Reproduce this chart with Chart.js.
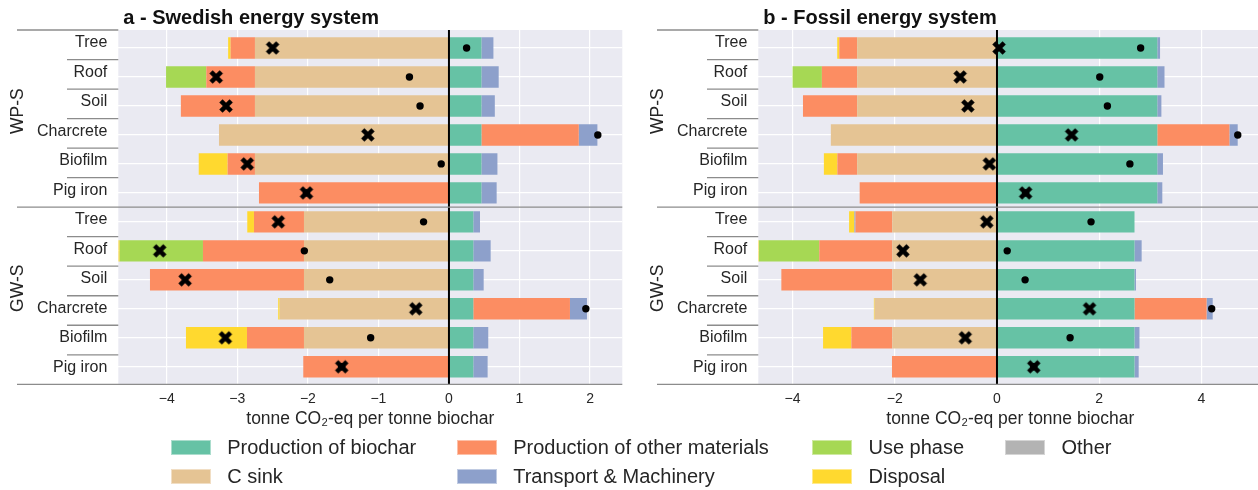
<!DOCTYPE html>
<html>
<head>
<meta charset="utf-8">
<script src="https://cdn.jsdelivr.net/npm/chart.js@4"></script>
<style>
  html, body { margin: 0; padding: 0; background: #ffffff; overflow: hidden; width: 1258px; height: 490px; }
  #wrap { position: relative; width: 1258px; height: 490px; overflow: hidden; font-family: "Liberation Sans", Arial, sans-serif; }
  #wrap canvas { position: absolute; top: 0; }
  .key { position: absolute; height: 15px; display: flex; align-items: center; font-size: 20px; color: #262626; white-space: nowrap; }
  .key i { display: inline-block; width: 40px; height: 15px; margin-right: 16.5px; box-sizing: border-box; border: 1px solid rgba(255,255,255,0.45); }
</style>
</head>
<body>
<div id="wrap">
  <canvas id="panelA" width="630" height="440" style="left:0px"></canvas>
  <canvas id="panelB" width="630" height="440" style="left:640px"></canvas>
  <div id="legend"></div>
</div>
<script>
// Row structure: six applications under each of two scenarios
const scenarios = ['WP-S', 'GW-S'];
const applications = ['Tree', 'Roof', 'Soil', 'Charcrete', 'Biofilm', 'Pig iron'];

// Emission categories (stacking order) and their colours
const seriesNames = ['Production of biochar', 'C sink', 'Production of other materials',
                     'Transport & Machinery', 'Use phase', 'Disposal', 'Other'];
const seriesColors = ['#66c2a5', '#e5c494', '#fc8d62', '#8da0cb', '#a6d854', '#ffd92f', '#b3b3b3'];

// a - Swedish energy system, tonne CO2-eq per tonne biochar (rows: WP-S x6, then GW-S x6)
const sweBiochar   = [0.46, 0.46, 0.46, 0.46, 0.46, 0.46, 0.345, 0.345, 0.345, 0.345, 0.345, 0.345];
const sweCSink     = [-2.75, -2.75, -2.75, -3.26, -2.75, 0, -2.055, -2.055, -2.055, -2.40, -2.055, 0];
const sweMaterials = [-0.345, -0.69, -1.05, 1.38, -0.387, -2.693, -0.709, -1.432, -2.183, 1.37, -0.808, -2.065];
const sweTransport = [0.17, 0.245, 0.19, 0.264, 0.227, 0.216, 0.095, 0.246, 0.147, 0.241, 0.212, 0.203];
const sweUse       = [0, -0.57, 0, 0, 0, 0, 0, -1.18, 0, 0, 0, 0];
const sweDisposal  = [-0.035, 0, 0, 0, -0.41, 0, -0.095, -0.02, 0, -0.02, -0.865, 0];
const sweOther     = [0, 0, 0, 0, 0, 0, 0, 0, 0, 0, 0, 0];
const sweNet       = [-2.50, -3.30, -3.16, -1.15, -2.86, -2.02, -2.42, -4.10, -3.74, -0.47, -3.17, -1.52];
const sweNoSink    = [0.25, -0.56, -0.41, 2.11, -0.11, -2.02, -0.36, -2.05, -1.69, 1.94, -1.11, -1.52];
const sweTicks     = [-4, -3, -2, -1, 0, 1, 2];

// b - Fossil energy system
const fosBiochar   = [3.136, 3.136, 3.136, 3.136, 3.136, 3.136, 2.69, 2.69, 2.69, 2.69, 2.69, 2.69];
const fosCSink     = [-2.735, -2.735, -2.735, -3.25, -2.735, 0, -2.048, -2.048, -2.048, -2.393, -2.048, 0];
const fosMaterials = [-0.35, -0.69, -1.06, 1.41, -0.387, -2.686, -0.72, -1.428, -2.17, 1.41, -0.80, -2.054];
const fosTransport = [0.054, 0.141, 0.08, 0.163, 0.111, 0.098, -0.02, 0.14, 0.029, 0.12, 0.097, 0.082];
const fosUse       = [0, -0.573, 0, 0, 0, 0, 0, -1.179, 0, 0, 0, 0];
const fosDisposal  = [-0.04, 0, 0, 0, -0.264, 0, -0.105, -0.014, 0, -0.015, -0.554, 0];
const fosOther     = [0, 0, 0, 0, 0, 0, 0, 0, 0, 0, 0, 0];
const fosNet       = [0.04, -0.72, -0.57, 1.46, -0.15, 0.56, -0.20, -1.84, -1.50, 1.81, -0.62, 0.72];
const fosNoSink    = [2.81, 2.01, 2.16, 4.71, 2.60, 0.56, 1.84, 0.20, 0.55, 4.20, 1.43, 0.72];
const fosTicks     = [-4, -2, 0, 2, 4];

const FONT = '"Liberation Sans", Arial, sans-serif';
const rowCount = scenarios.length * applications.length;

// Filled "X" marker for the net result
function crossMarker(span, arm) {
  const c = document.createElement('canvas');
  const s = Math.ceil(span) + 4;
  c.width = s; c.height = s;
  const g = c.getContext('2d');
  g.translate(s / 2, s / 2);
  g.rotate(Math.PI / 4);
  g.fillStyle = '#000000';
  const len = span * Math.SQRT2 - arm;
  g.fillRect(-len / 2, -arm / 2, len, arm);
  g.fillRect(-arm / 2, -len / 2, arm, len);
  return c;
}
const netMarker = crossMarker(13.5, 4.6);

// Background, zero line, row/scenario labels with divider rules, panel title
const panelDecor = {
  id: 'panelDecor',
  beforeDraw(chart) {
    const { ctx, chartArea: a } = chart;
    ctx.save();
    ctx.fillStyle = '#eaeaf2';
    ctx.fillRect(a.left, a.top, a.right - a.left, a.bottom - a.top);
    ctx.restore();
  },
  afterDatasetsDraw(chart) {
    const { ctx, chartArea: a } = chart;
    const x0 = chart.scales.x.getPixelForValue(0);
    ctx.save();
    ctx.strokeStyle = '#000000';
    ctx.lineWidth = 2;
    ctx.beginPath();
    ctx.moveTo(x0, a.top);
    ctx.lineTo(x0, a.bottom);
    ctx.stroke();
    ctx.restore();
  },
  afterDraw(chart, args, opts) {
    const { ctx, chartArea: a } = chart;
    const cell = (a.bottom - a.top) / rowCount;
    const per = applications.length;
    ctx.save();
    // divider rules
    ctx.strokeStyle = '#8c8c8c';
    ctx.lineWidth = 1.3;
    for (let g = 0; g <= scenarios.length; g++) {
      const y = a.top + g * per * cell;
      ctx.beginPath();
      ctx.moveTo(a.left - 101.3, y);
      ctx.lineTo(g === 0 ? a.left : a.right, y);
      ctx.stroke();
    }
    for (let g = 0; g < scenarios.length; g++) {
      for (let k = 1; k < per; k++) {
        const y = a.top + (g * per + k) * cell;
        ctx.beginPath();
        ctx.moveTo(a.left - 51.3, y);
        ctx.lineTo(a.left, y);
        ctx.stroke();
      }
    }
    // application labels
    ctx.fillStyle = '#262626';
    ctx.font = '16px ' + FONT;
    ctx.textAlign = 'right';
    ctx.textBaseline = 'alphabetic';
    for (let i = 0; i < rowCount; i++) {
      const y = a.top + (i + 0.5) * cell + 2.4;
      ctx.fillText(applications[i % per], a.left - 11, y);
    }
    // scenario labels
    ctx.font = '17.5px ' + FONT;
    ctx.textAlign = 'center';
    for (let g = 0; g < scenarios.length; g++) {
      const yc = a.top + (g * per + per / 2) * cell - 7.5;
      ctx.save();
      ctx.translate(a.left - 95.6, yc);
      ctx.rotate(-Math.PI / 2);
      ctx.fillText(scenarios[g], 0, 0);
      ctx.restore();
    }
    // panel title
    ctx.fillStyle = '#111111';
    ctx.font = 'bold 20px ' + FONT;
    ctx.textAlign = 'left';
    ctx.fillText(opts.title, a.left + 5, 23.5);
    ctx.restore();
  }
};

function toPoints(values) {
  return values.map((v, i) => ({ x: v, y: i }));
}

function makePanel(canvasId, title, series, net, noSink, ticks, xMin, xMax) {
  const datasets = [
    { type: 'scatter', label: 'Net', stack: 'net', data: toPoints(net),
      pointStyle: netMarker, pointRadius: 7, pointBorderWidth: 0, backgroundColor: '#000000' },
    { type: 'scatter', label: 'Net excl. C sink', stack: 'nosink', data: toPoints(noSink),
      pointStyle: 'circle', pointRadius: 3.7, pointBorderWidth: 0, backgroundColor: '#000000', borderColor: '#000000' }
  ];
  series.forEach((vals, k) => {
    datasets.push({
      type: 'bar', label: seriesNames[k], data: toPoints(vals),
      backgroundColor: seriesColors[k], borderWidth: 0,
      barPercentage: 0.74, categoryPercentage: 1
    });
  });
  return new Chart(document.getElementById(canvasId), {
    type: 'bar',
    data: { datasets },
    options: {
      indexAxis: 'y',
      responsive: false,
      animation: false,
      devicePixelRatio: 1,
      events: [],
      layout: { padding: { top: 30, right: 7.7, left: 0, bottom: 0 } },
      plugins: {
        legend: { display: false },
        tooltip: { enabled: false },
        title: { display: false },
        panelDecor: { title }
      },
      scales: {
        x: {
          type: 'linear', stacked: true, bounds: 'data', min: xMin, max: xMax, offset: false,
          afterBuildTicks: s => { s.ticks = ticks.map(v => ({ value: v })); },
          afterFit: s => { s.height = 55.7; },
          grid: { color: '#ffffff', lineWidth: 1.2, drawTicks: false, offset: false },
          border: { display: false },
          ticks: {
            font: { family: FONT, size: 14 }, color: '#262626', padding: 6.6,
            callback: v => (v < 0 ? '\u2212' : '') + Math.abs(v)
          },
          title: {
            display: true, text: 'tonne CO\u2082-eq per tonne biochar',
            font: { family: FONT, size: 17.5 }, color: '#262626',
            padding: { top: 0, bottom: 10 }
          }
        },
        y: {
          type: 'linear', stacked: true, reverse: true, bounds: 'data', min: -0.621, max: 11.605,
          offset: false,
          afterBuildTicks: s => { s.ticks = Array.from({ length: rowCount }, (_, i) => ({ value: i })); },
          afterFit: s => { s.width = 118.3; },
          grid: { color: '#ffffff', lineWidth: 1.2, drawTicks: false, offset: false },
          border: { display: false },
          ticks: { display: false }
        }
      }
    },
    plugins: [panelDecor]
  });
}

makePanel('panelA', 'a - Swedish energy system',
  [sweBiochar, sweCSink, sweMaterials, sweTransport, sweUse, sweDisposal, sweOther],
  sweNet, sweNoSink, sweTicks, -4.687, 2.457);

makePanel('panelB', 'b - Fossil energy system',
  [fosBiochar, fosCSink, fosMaterials, fosTransport, fosUse, fosDisposal, fosOther],
  fosNet, fosNoSink, fosTicks, -4.669, 5.19);

// Shared legend, four columns filled top to bottom
const legendCols = [170.7, 456.7, 812, 1005];
const legendRows = [440, 469];
const legend = document.getElementById('legend');
seriesNames.forEach((name, n) => {
  const item = document.createElement('div');
  item.className = 'key';
  item.style.left = legendCols[Math.floor(n / 2)] + 'px';
  item.style.top = legendRows[n % 2] + 'px';
  const sw = document.createElement('i');
  sw.style.background = seriesColors[n];
  item.appendChild(sw);
  item.appendChild(document.createTextNode(name));
  legend.appendChild(item);
});
</script>
</body>
</html>
